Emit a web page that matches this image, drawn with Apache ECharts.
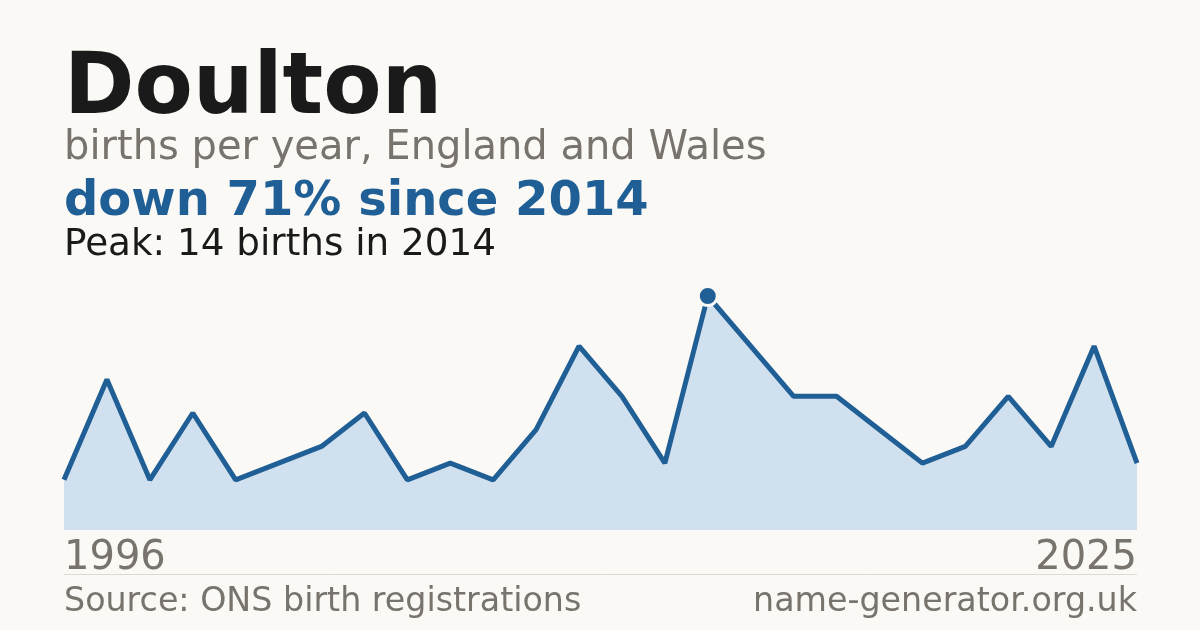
<!DOCTYPE html>
<html>
<head>
    <meta charset="utf-8">
    <title>Doulton births</title>
    <script src="https://cdn.jsdelivr.net/npm/echarts@6/dist/echarts.min.js"></script>
    <style>
        html, body { margin: 0; padding: 0; background: #faf9f5; }
        #main { width: 1200px; height: 630px; }
    </style>
</head>
<body>
    <div id="main"></div>
    <script type="text/javascript">
        // years with registrations (gaps where the count was not published)
        var years = ['1996','1997','1998','2000','2001','2002','2004','2005','2006','2007',
                     '2009','2010','2011','2012','2013','2014','2015','2016','2017','2018',
                     '2019','2021','2022','2023','2024','2025'];
        var births = [3,9,3,7,3,4,5,7,3,4,
                      3,6,11,8,4,14,11,8,8,6,
                      4,5,8,5,11,4];
        var yTicks = [0, 14];

        var FONT = 'DejaVu Sans';
        var BLUE = '#1f5f96';
        var GREY = '#78736c';

        // peak point, drawn as its own dot
        var peakIdx = 0;
        for (var i = 1; i < births.length; i++) {
            if (births[i] > births[peakIdx]) peakIdx = i;
        }
        var peakData = births.map(function (v, i) { return i === peakIdx ? v : null; });

        var myChart = echarts.init(document.getElementById('main'));
        var option = {
            backgroundColor: '#faf9f5',
            animation: false,
            grid: { left: 64, right: 63, top: 296, bottom: 100 },
            xAxis: {
                type: 'category',
                data: years,
                boundaryGap: false,
                axisLine: { show: false },
                axisTick: { show: false },
                axisLabel: {
                    interval: function (idx) { return idx === 0 || idx === years.length - 1; },
                    alignMinLabel: 'left',
                    alignMaxLabel: 'right',
                    margin: 9,
                    fontFamily: FONT,
                    fontSize: 40,
                    color: GREY
                }
            },
            yAxis: {
                type: 'value',
                min: yTicks[0],
                max: yTicks[1],
                show: false
            },
            graphic: [
                { type: 'text', x: 64, y: 91, style: { text: 'Doulton', font: 'bold 85px "DejaVu Sans"', fill: '#1a1a1a', verticalAlign: 'middle' } },
                { type: 'text', x: 64, y: 149, style: { text: 'births per year, England and Wales', font: '40px "DejaVu Sans"', fill: GREY, verticalAlign: 'middle' } },
                { type: 'text', x: 64, y: 203, style: { text: 'down 71% since 2014', font: 'bold 48px "DejaVu Sans"', fill: BLUE, verticalAlign: 'middle' } },
                { type: 'text', x: 64, y: 245, style: { text: 'Peak: 14 births in 2014', font: '37.3px "DejaVu Sans"', fill: '#1a1a1a', verticalAlign: 'middle' } },
                { type: 'line', shape: { x1: 64, y1: 574.5, x2: 1137, y2: 574.5 }, style: { stroke: '#dddad3', lineWidth: 1 } },
                { type: 'text', x: 64, y: 602, style: { text: 'Source: ONS birth registrations', font: '33.3px "DejaVu Sans"', fill: GREY, verticalAlign: 'middle' } },
                { type: 'text', x: 1137, y: 602, style: { text: 'name-generator.org.uk', font: '33.3px "DejaVu Sans"', fill: GREY, align: 'right', verticalAlign: 'middle' } }
            ],
            series: [
                {
                    name: 'births',
                    type: 'line',
                    data: births,
                    showSymbol: false,
                    lineStyle: { color: BLUE, width: 5 },
                    areaStyle: { color: '#d0e0ef', opacity: 1 },
                    z: 2
                },
                {
                    name: 'peak',
                    type: 'scatter',
                    data: peakData,
                    symbol: 'circle',
                    symbolSize: 19,
                    itemStyle: { color: BLUE, borderColor: '#faf9f5', borderWidth: 3, opacity: 1 },
                    emphasis: { disabled: true },
                    z: 5
                }
            ]
        };
        myChart.setOption(option);
    </script>
</body>
</html>
